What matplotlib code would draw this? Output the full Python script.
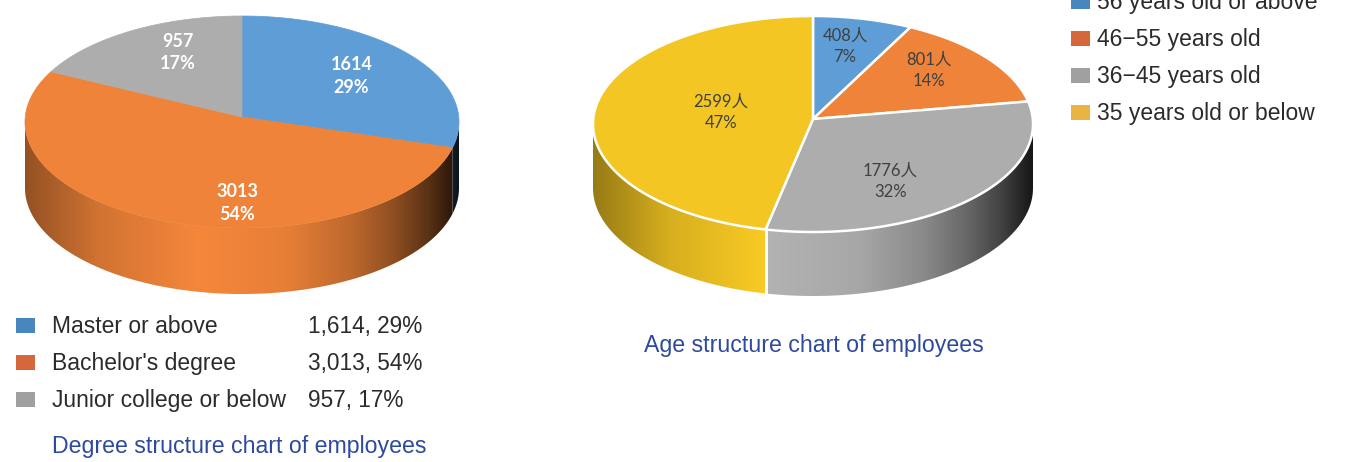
import numpy as np
import matplotlib
matplotlib.use('Agg')
import matplotlib.pyplot as plt
from matplotlib.patches import Polygon, Rectangle

# ---------------- data ----------------
degree_labels = ["Master or above", "Bachelor's degree", "Junior college or below"]
degree_values = [1614, 3013, 957]
degree_pcts = [29, 54, 17]

age_labels = ["56 years old or above", "46\u221255 years old", "36\u221245 years old", "35 years old or below"]
age_values = [408, 801, 1776, 2599]
age_pcts = [7, 14, 32, 47]

degree_title = "Degree structure chart of employees"
age_title = "Age structure chart of employees"

# ---------------- styles ----------------
deg_top_colors = ['#5F9DD6', '#EE8339', '#ADADAD']
age_top_colors = ['#5F9DD6', '#EE8339', '#ADADAD', '#F3C623']
deg_leg_colors = ['#4A86BE', '#D4683C', '#A0A0A0']
age_leg_colors = ['#4A86BE', '#D4683C', '#A0A0A0', '#E8B444']
TITLE_COLOR = '#2E4A9E'
TEXT_COLOR = '#2b2b2b'

W, H = 1362, 462
fig = plt.figure(figsize=(W / 100, H / 100), dpi=100)
ax = fig.add_axes([0, 0, 1, 1])
ax.set_xlim(0, W)
ax.set_ylim(H, 0)
ax.axis('off')

# shading profile across side width (t: 0 left -> 1 right)
shade_t = np.array([0.0, 0.17, 0.40, 0.60, 0.75, 0.85, 0.93, 1.0])
shade_f = np.array([0.62, 0.88, 1.03, 0.97, 0.80, 0.60, 0.38, 0.13])


def wedge_angles(values):
    v = np.asarray(values, float)
    ends = 90 - 360 * np.cumsum(v / v.sum())
    starts = np.concatenate([[90.0], ends[:-1]])
    return starts, ends


def pt(cx, cy, rx, ry, a):
    r = np.deg2rad(a)
    return cx + rx * np.cos(r), cy - ry * np.sin(r)


def draw_pie3d(values, colors, cx, cy, rx, ry, depth, apex_dy, edge, lw):
    starts, ends = wedge_angles(values)
    # sides
    for s, e, c in zip(starts, ends, colors):
        hi, lo = min(s, 0.0), max(e, -180.0)
        if hi <= lo:
            continue
        t = np.linspace(hi, lo, 200)
        xt, yt = pt(cx, cy, rx, ry, t)
        pts = np.vstack([np.column_stack([xt, yt]),
                         np.column_stack([xt[::-1], yt[::-1] + depth])])
        poly = Polygon(pts, closed=True, facecolor='none', edgecolor='none')
        ax.add_patch(poly)
        xs = np.linspace(cx - rx, cx + rx, 400)
        f = np.interp((xs - (cx - rx)) / (2 * rx), shade_t, shade_f)
        base = np.array(matplotlib.colors.to_rgb(c))
        img = np.clip(base[None, :] * f[:, None], 0, 1)[None, :, :]
        im = ax.imshow(img, extent=(cx - rx, cx + rx, cy + ry + depth + 2, cy - 2),
                       aspect='auto', interpolation='bilinear', zorder=1)
        im.set_clip_path(poly)
        if edge is not None:
            for a in (hi, lo):
                if -180 < a < 0:
                    x0, y0 = pt(cx, cy, rx, ry, a)
                    ax.plot([x0, x0], [y0, y0 + depth], color=edge, lw=lw, zorder=2)
    # tops
    for s, e, c in zip(starts, ends, colors):
        t = np.linspace(s, e, 300)
        xt, yt = pt(cx, cy, rx, ry, t)
        pts = np.vstack([[cx, cy - apex_dy], np.column_stack([xt, yt])])
        ax.add_patch(Polygon(pts, closed=True, facecolor=c,
                             edgecolor=edge if edge else c,
                             lw=lw if edge else 0.5, zorder=3, joinstyle='round'))
    return starts, ends


def draw_labels(starts, ends, texts, cx, cy, rx, ry, fracs, **kw):
    for s, e, txt, (fx, fy) in zip(starts, ends, texts, fracs):
        m = np.deg2rad((s + e) / 2)
        x = cx + fx * rx * np.cos(m)
        y = cy - fy * ry * np.sin(m)
        ax.text(x, y, txt, ha='center', va='center', zorder=5, linespacing=1.4, **kw)


# ---------------- left pie ----------------
L = dict(cx=242, cy=122, rx=217, ry=106, depth=66)
s1, e1 = draw_pie3d(degree_values, deg_top_colors, L['cx'], L['cy'], L['rx'], L['ry'],
                    L['depth'], 5, None, 0)
deg_texts = [f"{v}\n{p}%" for v, p in zip(degree_values, degree_pcts)]
draw_labels(s1, e1, deg_texts, L['cx'], L['cy'] - 5, L['rx'], L['ry'],
            [(0.64, 0.63), (0.06, 0.87), (0.58, 0.71)],
            color='white', fontsize=13, fontweight='bold', family=['Lato', 'DejaVu Sans'])

# ---------------- right pie ----------------
R = dict(cx=813, cy=124, rx=220, ry=108, depth=64)
s2, e2 = draw_pie3d(age_values, age_top_colors, R['cx'], R['cy'], R['rx'], R['ry'],
                    R['depth'], 5, 'white', 1.8)
age_texts = [f"{v}\u4eba\n{p}%" for v, p in zip(age_values, age_pcts)]
draw_labels(s2, e2, age_texts, R['cx'], R['cy'] - 5, R['rx'], R['ry'],
            [(0.64, 0.69), (0.67, 0.74), (0.50, 0.81), (0.42, 0.6)],
            color='#404040', fontsize=12, family=['Lato', 'Noto Sans CJK SC'])

# ---------------- left legend ----------------
fam = ['Liberation Sans', 'DejaVu Sans']
for i, (lab, val, pct, col) in enumerate(zip(degree_labels, degree_values, degree_pcts, deg_leg_colors)):
    yb = 333 + 37 * i
    ax.add_patch(Rectangle((16, yb - 15), 19, 15, facecolor=col, edgecolor='none'))
    ax.text(52, yb, lab, ha='left', va='baseline', fontsize=16.5, color=TEXT_COLOR, family=fam)
    ax.text(308, yb, f"{val:,}, {pct}%", ha='left', va='baseline', fontsize=16.3,
            color=TEXT_COLOR, family=fam)
ax.text(52, 453, degree_title, ha='left', va='baseline', fontsize=16.7, color=TITLE_COLOR, family=fam)

# ---------------- right legend ----------------
for i, (lab, col) in enumerate(zip(age_labels, age_leg_colors)):
    yb = 9 + 37 * i
    ax.add_patch(Rectangle((1071, yb - 15), 19, 15, facecolor=col, edgecolor='none'))
    ax.text(1097, yb, lab, ha='left', va='baseline', fontsize=16.5, color=TEXT_COLOR, family=fam)
ax.text(644, 352, age_title, ha='left', va='baseline', fontsize=16.7, color=TITLE_COLOR, family=fam)

ax.set_xlim(0, W)
ax.set_ylim(H, 0)
fig.savefig('out.png', dpi=100, facecolor='white')
